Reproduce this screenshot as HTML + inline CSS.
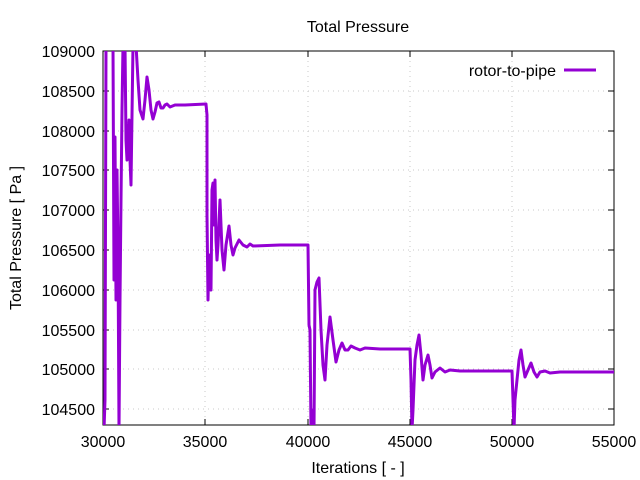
<!DOCTYPE html>
<html><head><style>body{margin:0;background:#fff}svg{display:block;font-family:"Liberation Sans",sans-serif}</style></head><body>
<svg width="640" height="480" viewBox="0 0 640 480">
<g stroke="#c8c8c8" stroke-dasharray="1,4" stroke-width="1">
<path d="M103 51H614M103 91H614M103 131H614M103 170H614M103 210H614M103 250H614M103 290H614M103 330H614M103 369H614M103 409H614"/>
<path d="M205 51V425M308 51V425M410 51V425M512 51V425"/>
</g>
<g stroke="#000" stroke-width="1">
<rect x="103" y="51" width="511" height="374" fill="none"/>
<path d="M103 91h6M103 131h6M103 170h6M103 210h6M103 250h6M103 290h6M103 330h6M103 369h6M103 409h6M614 91h-6M614 131h-6M614 170h-6M614 210h-6M614 250h-6M614 290h-6M614 330h-6M614 369h-6M614 409h-6M205 425v-6M308 425v-6M410 425v-6M512 425v-6M205 51v6M308 51v6M410 51v6M512 51v6"/>
</g>
<g font-size="16" fill="#000" text-anchor="end">
<text x="95" y="57">109000</text><text x="95" y="97">108500</text><text x="95" y="137">108000</text><text x="95" y="176">107500</text><text x="95" y="216">107000</text><text x="95" y="256">106500</text><text x="95" y="296">106000</text><text x="95" y="336">105500</text><text x="95" y="375">105000</text><text x="95" y="415">104500</text>
</g>
<g font-size="16" fill="#000" text-anchor="middle">
<text x="103" y="447">30000</text><text x="205" y="447">35000</text><text x="308" y="447">40000</text><text x="410" y="447">45000</text><text x="512" y="447">50000</text><text x="614" y="447">55000</text>
<text x="358" y="473">Iterations [ - ]</text>
<text x="358" y="32">Total Pressure</text>
<text transform="translate(21,238) rotate(-90)">Total Pressure [ Pa ]</text>
</g>
<text x="556" y="76" font-size="16" text-anchor="end">rotor-to-pipe</text>
<path d="M564 70H596" stroke="#9400d3" stroke-width="3"/>
<svg x="103" y="51" width="511" height="374" viewBox="103 51 511 374" overflow="hidden">
<polyline fill="none" stroke="#9400d3" stroke-width="3" stroke-linejoin="round" points="104,430 105,400 106,45 113,45 114,280 115,137 116,300 117,170 118,250 119,430 120,300 121,200 122,110 123,45 125,45 126,140 127,160 129,120 130,160 131,185 133,45 136,45 138,80 140,110 143,119 145,100 147,77 149,90 151,110 153,119 155,112 157,103 159,102 161,108 163,108 165,105 167,104 170,107 175,105 185,105 206,104 207,115 207,215 208,300 209,255 210,270 211,290 212,190 213,183 214,225 215,180 216,240 217,260 218,245 220,200 222,250 224,270 226,245 229,226 231,245 233,255 235,248 239,240 243,245 247,247 250,244 253,246 280,245 308,245 309,325 310,330 311,430 313,410 314,430 315,290 317,282 319,278 321,330 323,365 325,380 327,345 330,317 333,340 336,362 339,350 342,343 345,350 348,350 351,346 355,348 360,350 365,348 380,349 410,349 411,380 412,430 413,410 415,360 417,345 419,335 421,355 423,380 425,365 428,355 430,365 432,378 435,372 440,368 445,372 450,370 460,371 512,371 513,400 514,430 515,400 517,380 519,360 521,350 523,365 525,377 528,370 531,363 534,372 537,377 540,372 545,371 550,373 560,372 614,372"/>
</svg>
</svg>
</body></html>
